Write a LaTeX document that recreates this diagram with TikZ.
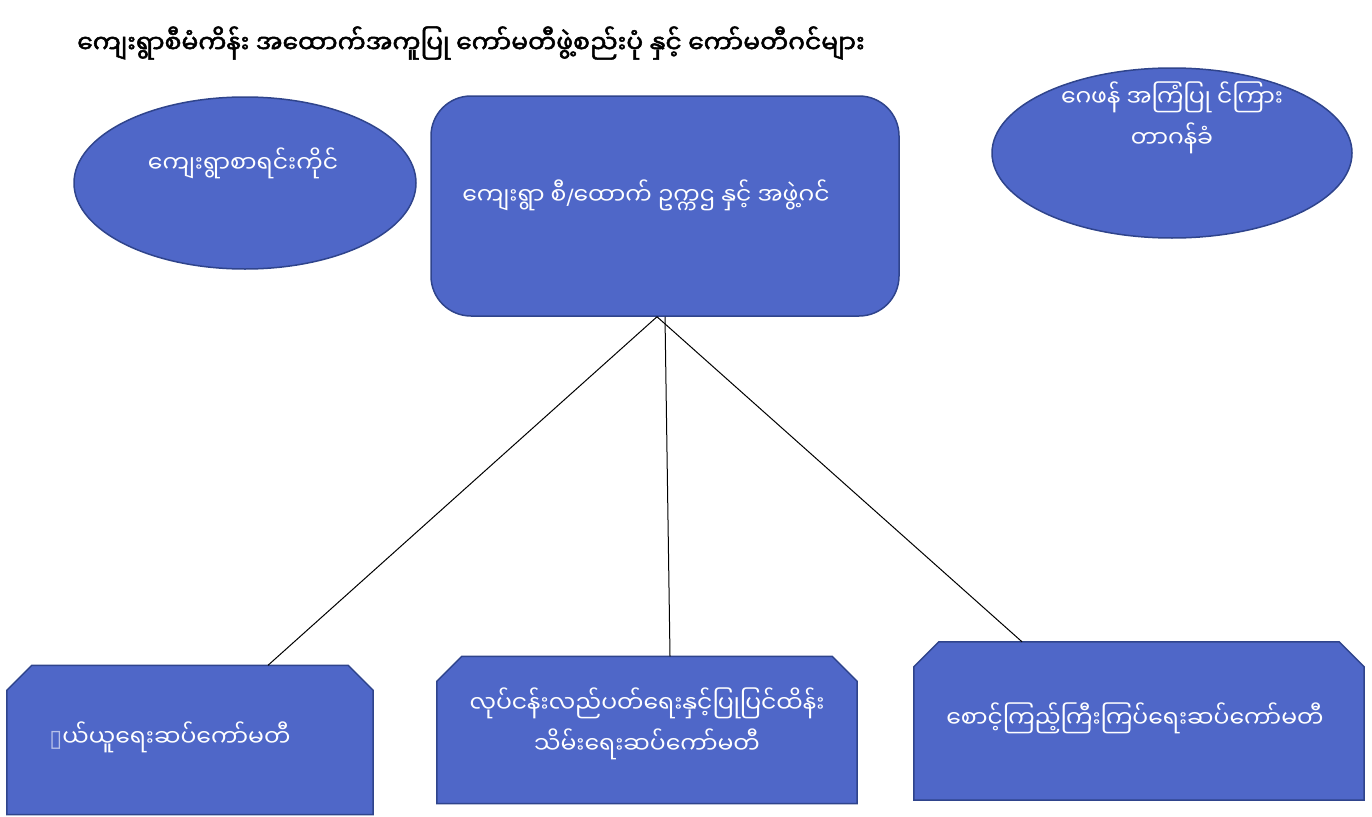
\documentclass[tikz,border=0pt]{standalone}
\usepackage{fontspec}
\newfontfamily\mmfont[Script=Myanmar,AutoFakeBold=2]{Noto Sans Myanmar UI}
\newfontfamily\symfont{DejaVu Sans}
\usetikzlibrary{shapes.geometric}
\definecolor{boxblue}{RGB}{79,103,200}
\definecolor{edgeblue}{RGB}{47,68,140}
\tikzstyle{oval} = [ellipse, minimum width=342pt, minimum height=172pt, draw=edgeblue, line width=1.5pt, fill=boxblue]
\tikzstyle{chair} = [rectangle, rounded corners=40pt, minimum width=468pt, minimum height=220pt, draw=edgeblue, line width=1.5pt, fill=boxblue]
\tikzstyle{subcom} = [rectangle, inner sep=0pt]
\tikzstyle{subfill} = [draw=edgeblue, line width=1.5pt, fill=boxblue]
\tikzstyle{label} = [text=white, font=\mmfont\fontsize{23.5}{41}\selectfont, align=center]
\tikzstyle{link} = [line width=1pt, black]

% box with the two top corners cut off
\newcommand{\chambox}[1]{%
  \filldraw [subfill] (#1.south west) -- ([yshift=-25pt]#1.north west) -- ([xshift=25pt]#1.north west)
    -- ([xshift=-25pt]#1.north east) -- ([yshift=-25pt]#1.north east) -- (#1.south east) -- cycle;}

\begin{document}
\begin{tikzpicture}[x=1pt, y=-1pt]
  \useasboundingbox (0,0) rectangle (1372,816);

  \node (title) at (471,43) {\mmfont\bfseries\fontsize{25}{30}\selectfont ကျေးရွာစီမံကိန်း အထောက်အကူပြု ကော်မတီဖွဲ့စည်းပုံ နှင့် ကော်မတီဂင်များ};

  \node (clerk) [oval] at (245,183) {};
  \node (boss) [chair] at (665,206) {};
  \node (advisor) [oval, minimum width=360pt, minimum height=170pt] at (1172,153) {};

  \node (buy) [subcom, minimum width=366pt, minimum height=149pt] at (190,740) {};
  \node (repair) [subcom, minimum width=420pt, minimum height=147pt] at (647,730) {};
  \node (watch) [subcom, minimum width=450pt, minimum height=158pt] at (1139,721) {};
  \chambox{buy}
  \chambox{repair}
  \chambox{watch}

  \node (clerktext) [label] at (243,163) {ကျေးရွာစာရင်းကိုင်};
  \node (bosstext) [label] at (646,195) {ကျေးရွာ စီ{\symfont\fontsize{21}{41}\selectfont /}ထောက် ဥက္ကဌ နှင့် အဖွဲ့ဂင်};
  \node (advisortext) [label] at (1172,118) {ဂေဖန် အကြံပြု င်ကြား\\တာဂန်ခံ};
  \node (buytext) [label] at (170,737) {{\symfont\color{white!60!boxblue}▯}ယ်ယူရေးဆပ်ကော်မတီ};
  \node (repairtext) [label] at (647,724) {လုပ်ငန်းလည်ပတ်ရေးနှင့်ပြုပြင်ထိန်း\\သိမ်းရေးဆပ်ကော်မတီ};
  \node (watchtext) [label] at (1135,718) {စောင့်ကြည့်ကြီးကြပ်ရေးဆပ်ကော်မတီ};

  \draw [link] ([xshift=-8pt]boss.south) -- ([xshift=78pt]buy.north);
  \draw [link] (boss.south) -- ([xshift=23pt]repair.north);
  \draw [link] ([xshift=-8pt]boss.south) -- ([xshift=-117pt]watch.north);
\end{tikzpicture}
\end{document}
